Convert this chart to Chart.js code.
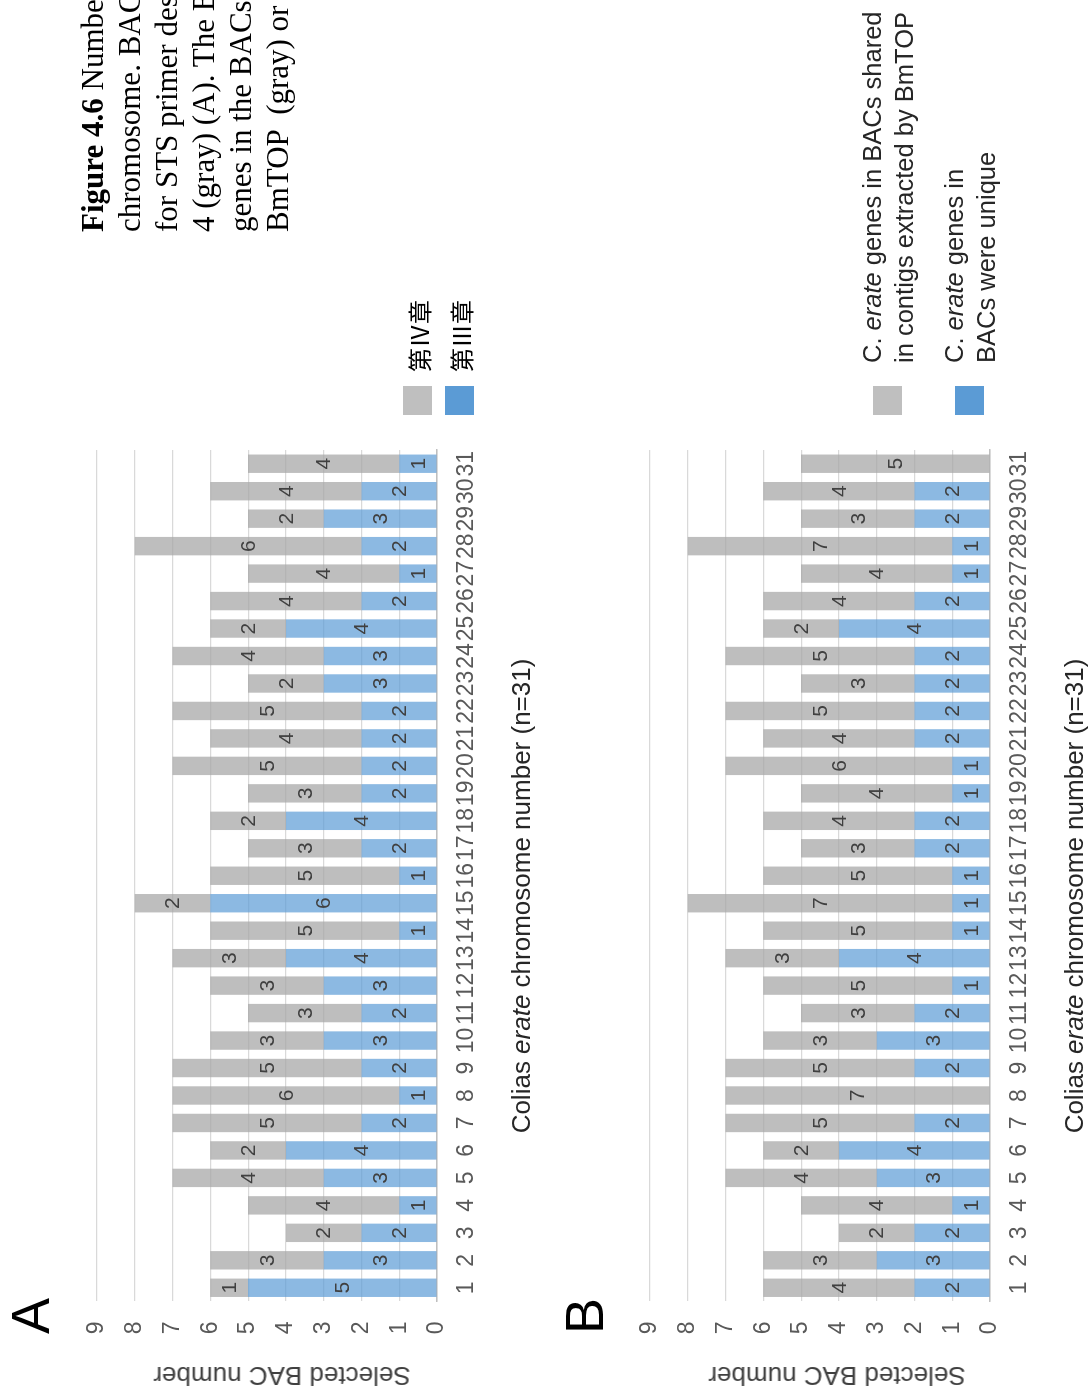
<!DOCTYPE html>
<html><head><meta charset="utf-8">
<script src="https://cdn.jsdelivr.net/npm/chart.js@4.4.1/dist/chart.umd.min.js"></script>
<style>
html,body{margin:0;padding:0;background:#fff;width:1091px;height:1394px;overflow:hidden;}
.rot{position:absolute;top:1394px;width:1394px;height:553px;transform-origin:0 0;transform:rotate(-90deg);}
.rot canvas{position:absolute;left:0;top:0;}
.abs{position:absolute;white-space:pre;font-family:"Liberation Sans",Arial,sans-serif;}
.panel{font-size:54px;color:#000;line-height:54px;transform:translate(-50%,-50%);}
.ytitle{font-size:26px;color:#404040;line-height:26px;transform:translate(-50%,-50%) rotate(-90deg);}
.xtitle{font-size:26px;color:#262626;line-height:26px;transform:translate(-50%,-50%);}
.sw{position:absolute;width:29px;height:29px;}
.lgA{font-family:"Noto Sans CJK JP","Noto Sans CJK SC",sans-serif;font-size:24px;line-height:24px;color:#000;transform:translateY(-50%);}
.lgB{font-size:25.5px;line-height:32px;color:#262626;}
.cap{font-family:"Liberation Serif","Times New Roman",serif;font-size:31px;line-height:37px;color:#000;}
</style></head><body>

<div class="rot" id="boxA" style="left:0px;">
  <canvas id="chartA" width="1394" height="553"></canvas>
  <div class="abs panel" style="left:78px;top:30px;">A</div>
  <div class="abs ytitle" style="left:18px;top:282px;">Selected BAC number</div>
  <div class="abs xtitle" style="left:498px;top:521px;">Colias <i>erate</i> chromosome number (n=31)</div>
  <div class="sw" style="left:979px;top:403px;background:#BFBFBF;"></div>
  <div class="abs lgA" style="left:1022px;top:419px;">第Ⅳ章</div>
  <div class="sw" style="left:979px;top:445px;background:#5B9BD5;"></div>
  <div class="abs lgA" style="left:1022px;top:461px;">第Ⅲ章</div>
  <div class="abs cap" style="left:1162px;top:74px;"><b>Figure 4.6</b> Number of
chromosome. BACs
for STS primer design
4 (gray) (A). The BAC
genes in the BACs
BmTOP  (gray) or</div>
</div>

<div class="rot" id="boxB" style="left:553px;">
  <canvas id="chartB" width="1394" height="553"></canvas>
  <div class="abs panel" style="left:78px;top:31px;">B</div>
  <div class="abs ytitle" style="left:18px;top:284px;">Selected BAC number</div>
  <div class="abs xtitle" style="left:498px;top:521px;">Colias <i>erate</i> chromosome number (n=31)</div>
  <div class="sw" style="left:979px;top:320px;background:#BFBFBF;"></div>
  <div class="abs lgB" style="left:1031px;top:303px;">C. <i>erate</i> genes in BACs shared
in contigs extracted by BmTOP</div>
  <div class="sw" style="left:979px;top:402px;background:#5B9BD5;"></div>
  <div class="abs lgB" style="left:1031px;top:385px;">C. <i>erate</i> genes in
BACs were unique</div>
</div>

<script>
// ---- data ----
const categories = ['1','2','3','4','5','6','7','8','9','10','11','12','13','14','15','16','17','18','19','20','21','22','23','24','25','26','27','28','29','30','31'];
const valueTicks = [0,1,2,3,4,5,6,7,8,9];
// Panel A
const chapter3A = [5,3,2,1,3,4,2,1,2,3,2,3,4,1,6,1,2,4,2,2,2,2,3,3,4,2,1,2,3,2,1];
const chapter4A = [1,3,2,4,4,2,5,6,5,3,3,3,3,5,2,5,3,2,3,5,4,5,2,4,2,4,4,6,2,4,4];
// Panel B
const uniqueB = [2,3,2,1,3,4,2,0,2,3,2,1,4,1,1,1,2,2,1,1,2,2,2,2,4,2,1,1,2,2,0];
const sharedB = [4,3,2,4,4,2,5,7,5,3,3,5,3,5,7,5,3,4,4,6,4,5,3,5,2,4,4,7,3,4,5];

const BLUE = 'rgba(91,155,213,0.70)';
const GRAY = 'rgba(165,165,165,0.72)';
const FONT = '"Liberation Sans", Arial, sans-serif';

const valueLabels = {
  id:'valueLabels',
  afterDatasetsDraw(chart){
    const ctx = chart.ctx;
    ctx.save();
    ctx.font = '21px ' + FONT;
    ctx.fillStyle = '#404040';
    ctx.textAlign = 'center';
    ctx.textBaseline = 'middle';
    chart.data.datasets.forEach((ds,i)=>{
      chart.getDatasetMeta(i).data.forEach((bar,j)=>{
        const v = ds.data[j];
        if(!v) return;
        const p = bar.getProps(['x','y','base'], true);
        ctx.fillText(String(v), p.x, (p.y + p.base)/2 + 1);
      });
    });
    ctx.restore();
  }
};

function makeChart(id, lowVals, lowName, highVals, highName){
  return new Chart(document.getElementById(id), {
    type:'bar',
    data:{
      labels: categories,
      datasets:[
        {label:lowName, data:lowVals, backgroundColor:BLUE, borderWidth:0, barPercentage:0.67, categoryPercentage:1.0},
        {label:highName, data:highVals, backgroundColor:GRAY, borderWidth:0, barPercentage:0.67, categoryPercentage:1.0}
      ]
    },
    options:{
      responsive:false, animation:false, devicePixelRatio:1,
      layout:{padding:{left:0, top:97, right:450, bottom:0}},
      plugins:{legend:{display:false}, tooltip:{enabled:false}, title:{display:false}},
      scales:{
        x:{
          stacked:true,
          grid:{display:false, drawTicks:false},
          border:{display:true, color:'#BFBFBF', width:1.5},
          ticks:{autoSkip:false, maxRotation:0, minRotation:0, color:'#595959', padding:16, font:{family:FONT, size:23}},
          afterFit(s){ s.height = 116; }
        },
        y:{
          stacked:true, min:0, max:9,
          afterBuildTicks(s){ s.ticks = valueTicks.map(v=>({value:v})); },
          grid:{color:'#D9D9D9', lineWidth:1.2, drawTicks:false},
          border:{display:false},
          ticks:{color:'#595959', padding:20, font:{family:FONT, size:23}},
          afterFit(s){ s.width = 92.5; }
        }
      }
    },
    plugins:[valueLabels]
  });
}

makeChart('chartA', chapter3A, '第Ⅲ章', chapter4A, '第Ⅳ章');
makeChart('chartB', uniqueB, 'C. erate genes in BACs were unique', sharedB, 'C. erate genes in BACs shared in contigs extracted by BmTOP');
</script>
</body></html>
